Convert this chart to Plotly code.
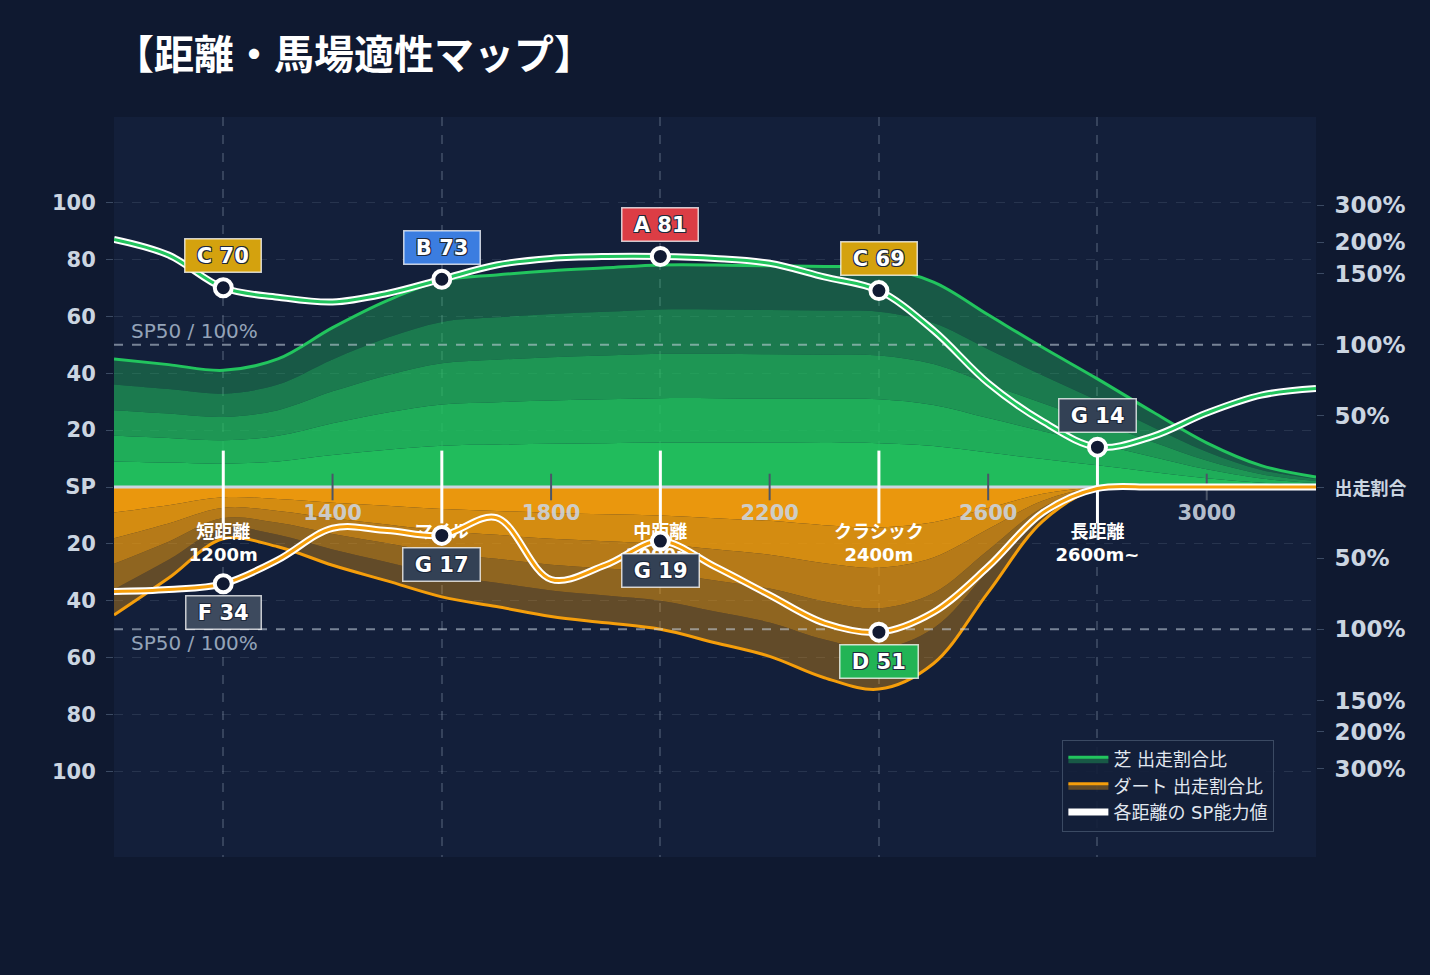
import plotly.graph_objects as go

# distance grid (m) and the curves
DIST = list(range(1000, 3300, 100))
TURF_SHARE = [45, 43, 41, 45, 56, 65.5, 72.5, 74.5, 76, 77, 78, 78, 77.7, 77.5, 77,
              72, 60.5, 49, 38, 26.5, 15.5, 7.5, 3.5]
DIRT_SHARE = [-45, -32, -18.2, -21, -27.5, -33, -38.6, -42, -45.5, -47.7, -50, -54.7,
              -59.5, -67, -71, -62, -37, -12, -0.5, -0.4, -0.4, -0.4, -0.4]
TURF_SP = [87, 81.5, 70, 66.7, 65, 68, 73, 78, 80.3, 81, 81, 80.3, 78.6, 73.8, 69,
           55, 36.5, 23, 14, 17.7, 26, 32.3, 34.6]
DIRT_SP = [-36.7, -36, -34, -25.6, -14.5, -15.3, -17, -10.8, -32.5, -27.4, -19, -28,
           -38, -47.8, -51, -44, -28, -9, -0.5, 0, 0, 0, 0]

# categories
CAT_DIST = [1200, 1600, 2000, 2400, 2800]
CAT_NAME = ['短距離', 'マイル', '中距離', 'クラシック', '長距離']
CAT_RANGE = ['1200m', '1600m', '2000m', '2400m', '2600m~']
TURF_GRADE = ['C', 'B', 'A', 'C', 'G']
DIRT_CAT_DIST = [1200, 1600, 2000, 2400]
DIRT_GRADE = ['F', 'G', 'G', 'D']

TICK_DIST = [1400, 1800, 2200, 2600, 3000]
Y_TICKS = [100, 80, 60, 40, 20, 0, -20, -40, -60, -80, -100]
Y_LABELS = ['100', '80', '60', '40', '20', 'SP', '20', '40', '60', '80', '100']
PCT_TICKS = [99, 86, 75, 50, 25, 0, -25, -50, -75, -86, -99]
PCT_LABELS = ['300%', '200%', '150%', '100%', '50%',
              '<span style="font-size:18px">出走割合</span>',
              '50%', '100%', '150%', '200%', '300%']
SP50 = 50

BAND_LEVELS = [0.2, 0.4, 0.6, 0.8, 1.0]
BAND_ALPHA = [0.95, 0.86, 0.72, 0.55, 0.35]

GRADE_COLOR = {'A': '#dc3d45', 'B': '#3b7de0', 'C': '#d4a20e', 'D': '#22b455',
               'F': '#3d4a5e', 'G': '#334155'}

GREEN = '#22c55e'
ORANGE = '#f59e0b'
FONT = 'DejaVu Sans, Noto Sans CJK JP, sans-serif'
FONT_JP = 'Noto Sans CJK JP, sans-serif'
OUTLINE = ('1px 1px 0 #1e293b, -1px -1px 0 #1e293b, '
           '1px -1px 0 #1e293b, -1px 1px 0 #1e293b')


def rgba(hx, a):
    h = hx.lstrip('#')
    return 'rgba({},{},{},{})'.format(int(h[0:2], 16), int(h[2:4], 16), int(h[4:6], 16), a)


fig = go.Figure()

# layered share bands
for share, col, name in [(TURF_SHARE, GREEN, '芝 出走割合比'),
                         (DIRT_SHARE, ORANGE, 'ダート 出走割合比')]:
    for i, (lvl, a) in enumerate(zip(BAND_LEVELS, BAND_ALPHA)):
        outer = i == len(BAND_LEVELS) - 1
        fig.add_trace(go.Scatter(
            x=DIST, y=[v * lvl for v in share], mode='lines',
            line=dict(shape='spline', smoothing=1, width=3 if outer else 0, color=col),
            fill='tozeroy' if i == 0 else 'tonexty', fillcolor=rgba(col, a),
            name=name, showlegend=outer, hoverinfo='skip'))

# zero line and SP50 reference lines
fig.add_trace(go.Scatter(x=[DIST[0], DIST[-1]], y=[0, 0], mode='lines',
                         line=dict(color='#cbd5e1', width=3), showlegend=False, hoverinfo='skip'))
for s in (SP50, -SP50):
    fig.add_trace(go.Scatter(x=[DIST[0], DIST[-1]], y=[s, s], mode='lines',
                             line=dict(color='rgba(203,213,225,0.55)', width=2, dash='dash'),
                             showlegend=False, hoverinfo='skip'))

# small tick marks on the zero line
fig.add_trace(go.Scatter(x=TICK_DIST, y=[0] * len(TICK_DIST), mode='markers',
                         marker=dict(symbol='line-ns-open', size=19, color='#4b5568',
                                     line=dict(color='#4b5568', width=2)),
                         showlegend=False, hoverinfo='skip'))

# category markers and labels
fig.add_trace(go.Scatter(
    x=CAT_DIST, y=[0] * len(CAT_DIST), mode='markers',
    marker=dict(symbol='line-ns-open', size=52, color='white',
                line=dict(color='white', width=3)),
    showlegend=False, hoverinfo='skip'))
fig.add_trace(go.Scatter(
    x=CAT_DIST, y=[0] * len(CAT_DIST), mode='markers+text',
    marker=dict(size=58, color='rgba(0,0,0,0)'),
    text=['<b>{}</b><br><b>{}</b>'.format(n, r) for n, r in zip(CAT_NAME, CAT_RANGE)],
    textposition='bottom center',
    textfont=dict(size=18, color='white', family=FONT),
    showlegend=False, hoverinfo='skip'))

# SP lines
for sp, col, leg in [(TURF_SP, GREEN, True), (DIRT_SP, ORANGE, False)]:
    fig.add_trace(go.Scatter(x=DIST, y=sp, mode='lines',
                             line=dict(shape='spline', smoothing=1, color='white', width=7),
                             name='各距離の SP能力値', showlegend=leg, hoverinfo='skip'))
    fig.add_trace(go.Scatter(x=DIST, y=sp, mode='lines',
                             line=dict(shape='spline', smoothing=1, color=col, width=3),
                             showlegend=False, hoverinfo='skip'))

turf_pts = [TURF_SP[DIST.index(d)] for d in CAT_DIST]
dirt_pts = [DIRT_SP[DIST.index(d)] for d in DIRT_CAT_DIST]
fig.add_trace(go.Scatter(x=CAT_DIST + DIRT_CAT_DIST, y=turf_pts + dirt_pts, mode='markers',
                         marker=dict(size=17, color='#111a33', line=dict(color='white', width=4)),
                         showlegend=False, hoverinfo='skip'))

# dummy trace for the right axis
fig.add_trace(go.Scatter(x=[DIST[0]], y=[0], yaxis='y2', mode='markers',
                         marker=dict(opacity=0), showlegend=False, hoverinfo='skip'))

# grade badges
for d, v, g in zip(CAT_DIST, turf_pts, TURF_GRADE):
    fig.add_annotation(x=d, y=v, yshift=32, showarrow=False,
                       text='<b> {} {} </b>'.format(g, round(abs(v))),
                       font=dict(size=21, color='white', family=FONT, shadow=OUTLINE),
                       bgcolor=GRADE_COLOR[g], bordercolor='rgba(255,255,255,0.75)',
                       borderwidth=1.5, borderpad=4)
for d, v, g in zip(DIRT_CAT_DIST, dirt_pts, DIRT_GRADE):
    fig.add_annotation(x=d, y=v, yshift=-29, showarrow=False,
                       text='<b> {} {} </b>'.format(g, round(abs(v))),
                       font=dict(size=21, color='white', family=FONT, shadow=OUTLINE),
                       bgcolor=GRADE_COLOR[g], bordercolor='rgba(255,255,255,0.75)',
                       borderwidth=1.5, borderpad=4)

for s, anchor in [(SP50, 'bottom'), (-SP50, 'top')]:
    fig.add_annotation(x=0, xref='paper', xanchor='left', xshift=15, y=s, yanchor=anchor,
                       showarrow=False, text='SP50 / 100%',
                       font=dict(size=20, color='#94a3b8', family=FONT))

fig.update_layout(
    width=1430, height=975,
    paper_bgcolor='#0f1930', plot_bgcolor='#131f3a',
    margin=dict(l=114, r=114, t=117, b=118),
    font=dict(family=FONT, color='#cbd5e1'),
    title=dict(text='<b>【距離・馬場適性マップ】</b>', x=0, xref='paper', xanchor='left',
               y=0.944, yref='container', yanchor='middle',
               font=dict(size=40, color='white', family=FONT_JP)),
    xaxis=dict(range=[DIST[0], DIST[-1]], tickvals=TICK_DIST, anchor='free', position=0.5,
               showgrid=False, zeroline=False, showline=False, ticks='',
               ticklabelstandoff=11,
               tickfont=dict(size=21, color='rgba(203,213,225,0.9)', family=FONT, weight='bold'),
               minor=dict(tickmode='array', tickvals=CAT_DIST, showgrid=True, ticks='',
                          gridcolor='rgba(148,163,184,0.28)', gridwidth=2, griddash='dash')),
    yaxis=dict(range=[-130, 130], tickvals=Y_TICKS, ticktext=Y_LABELS,
               showgrid=True, gridcolor='rgba(148,163,184,0.16)', griddash='dash',
               zeroline=False, ticks='outside', ticklen=7, tickcolor='#3b4a63',
               ticklabelstandoff=6,
               tickfont=dict(size=21, color='#cbd5e1', family=FONT, weight='bold')),
    yaxis2=dict(overlaying='y', side='right', range=[-130, 130], tickvals=PCT_TICKS,
                ticktext=PCT_LABELS, showgrid=False, zeroline=False, ticks='outside',
                ticklen=7, tickcolor='#3b4a63', ticklabelstandoff=6,
                tickfont=dict(size=23, color='#cbd5e1', family=FONT, weight='bold')),
    legend=dict(x=0.789, y=0.158, xanchor='left', yanchor='top', traceorder='normal',
                itemwidth=40,
                bgcolor='rgba(19,31,58,0.92)', bordercolor='#3b4a63', borderwidth=1,
                font=dict(size=18, color='#e2e8f0', family=FONT)),
    showlegend=True,
)

fig.write_html('out.html', config={'displayModeBar': False},
               post_script="document.body.style.margin='0px';"
                           "document.body.style.backgroundColor='#0f1930';"
                           "document.body.style.overflow='hidden';")
